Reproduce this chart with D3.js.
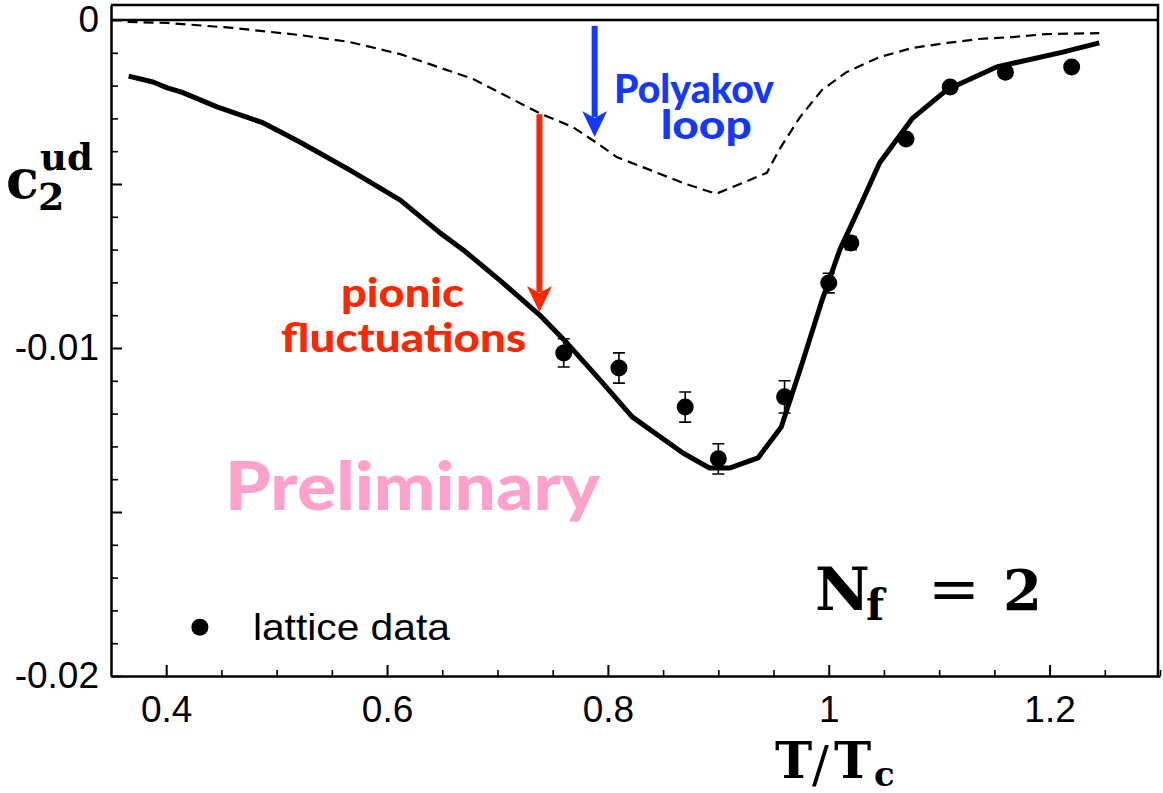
<!DOCTYPE html>
<html>
<head>
<meta charset="utf-8">
<script src="https://cdn.jsdelivr.net/npm/d3@7"></script>
<style>
  body { margin: 0; background: #fff; }
  svg { display: block; }
</style>
</head>
<body>
<script>
// model curve, full (pionic + Polyakov loop)
const fullT = [0.366, 0.388, 0.401, 0.414, 0.446, 0.488, 0.521, 0.566, 0.612, 0.648, 0.669, 0.702, 0.738,
  0.763, 0.793, 0.822, 0.868, 0.892, 0.910, 0.936, 0.957, 0.976, 0.994, 1.010, 1.028, 1.046, 1.076,
  1.107, 1.152, 1.212, 1.245];
const fullC = [-0.00171, -0.00189, -0.00207, -0.00220, -0.00265, -0.00314, -0.00372, -0.00457, -0.00549,
  -0.00649, -0.00701, -0.00793, -0.00899, -0.00985, -0.01098, -0.01210, -0.01320, -0.01366, -0.01366,
  -0.01335, -0.01241, -0.01046, -0.00854, -0.00701, -0.00570, -0.00436, -0.00299, -0.00213, -0.00143,
  -0.00098, -0.00070];

// Polyakov loop only (dashed)
const polyT = [0.365, 0.401, 0.460, 0.521, 0.566, 0.612, 0.678, 0.738, 0.768, 0.790, 0.808, 0.838, 0.868,
  0.898, 0.944, 0.955, 0.974, 0.994, 1.016, 1.046, 1.076, 1.107, 1.136, 1.166, 1.197, 1.245];
const polyC = [-0.00006, -0.00009, -0.00024, -0.00046, -0.00067, -0.00104, -0.00180, -0.00284, -0.00326,
  -0.00375, -0.00418, -0.00457, -0.00497, -0.00530, -0.00466, -0.00396, -0.00296, -0.00213, -0.00159,
  -0.00113, -0.00085, -0.00070, -0.00058, -0.00052, -0.00043, -0.00040];

// lattice data
const lattT = [0.76, 0.81, 0.87, 0.90, 0.96, 1.00, 1.02, 1.07, 1.11, 1.16, 1.22];
const lattC = [-0.01015, -0.01061, -0.01180, -0.01338, -0.01149, -0.00802, -0.00680, -0.00363, -0.00204, -0.00159, -0.00143];
const lattErr = [0.00043, 0.00046, 0.00046, 0.00046, 0.00049, 0.00030, 0.00020, 0.00010, 0.00010, 0.00010, 0.00010];

const xTickLabels = [0.4, 0.6, 0.8, 1, 1.2];
const yTickLabels = [0, -0.01, -0.02];

const width = 1163, height = 793;
const x = d3.scaleLinear([0.35, 1.3], [111, 1160]);
const y = d3.scaleLinear([-0.02, 0.000457], [676, 5]);

const svg = d3.select("body").append("svg")
    .attr("width", width)
    .attr("height", height)
    .attr("viewBox", [0, 0, width, height]);

const labelFont = "'Liberation Sans', Arial, Helvetica, sans-serif";
const mathFont = "'DejaVu Serif', serif";
const gillFont = "Lato, 'Open Sans', sans-serif";

// axes
const xMinor = d3.range(0.4, 1.31, 0.05).filter(v => !xTickLabels.some(t => Math.abs(t - v) < 1e-6));
svg.append("g")
    .attr("transform", `translate(0,${y.range()[0]})`)
    .call(d3.axisBottom(x).tickValues(xMinor).tickSize(-6).tickSizeOuter(0).tickFormat(""))
    .call(g => g.select(".domain").remove())
    .call(g => g.selectAll("line").attr("stroke-width", 1.6));
svg.append("g")
    .attr("transform", `translate(0,${y.range()[0]})`)
    .call(d3.axisBottom(x).tickValues(xTickLabels).tickSize(-11).tickSizeOuter(0).tickPadding(20)
      .tickFormat(d => String(d)))
    .call(g => g.select(".domain").attr("stroke-width", 2.5))
    .call(g => g.selectAll("line").attr("stroke-width", 2))
    .call(g => g.selectAll("text").attr("font-family", labelFont).attr("font-size", 37).attr("fill", "#000"));

const yMinor = d3.range(-20, 1).map(i => i / 1000).filter(v => Math.abs(v * 1000) % 5 !== 0);
const yMajor = d3.range(-20, 1, 5).map(i => i / 1000);
svg.append("g")
    .attr("transform", `translate(${x.range()[0]},0)`)
    .call(d3.axisLeft(y).tickValues(yMinor).tickSize(-7).tickSizeOuter(0).tickFormat(""))
    .call(g => g.select(".domain").remove())
    .call(g => g.selectAll("line").attr("stroke-width", 1.6));
svg.append("g")
    .attr("transform", `translate(${x.range()[0]},0)`)
    .call(d3.axisLeft(y).tickValues(yMajor).tickSize(-11).tickSizeOuter(0).tickPadding(12)
      .tickFormat(d => yTickLabels.some(t => Math.abs(t - d) < 1e-9) ? String(+d.toFixed(3)) : ""))
    .call(g => g.select(".domain").attr("stroke-width", 2.5))
    .call(g => g.selectAll("line").attr("stroke-width", 2))
    .call(g => g.selectAll("text").attr("font-family", labelFont).attr("font-size", 37).attr("fill", "#000"));

// frame: top, right, zero line
svg.append("path")
    .attr("d", `M${x.range()[0]},${y.range()[1]}H${x.range()[1] - 2}V${y.range()[0]}`)
    .attr("fill", "none").attr("stroke", "#000").attr("stroke-width", 2.5);
svg.append("line")
    .attr("x1", x.range()[0]).attr("x2", x.range()[1] - 2)
    .attr("y1", y(0)).attr("y2", y(0))
    .attr("stroke", "#000").attr("stroke-width", 2.5);

// curves
const line = d3.line().x(d => x(d[0])).y(d => y(d[1]));
svg.append("path")
    .attr("d", line(polyT.map((t, i) => [t, polyC[i]])))
    .attr("fill", "none").attr("stroke", "#000").attr("stroke-width", 2.2)
    .attr("stroke-dasharray", "10,6");
svg.append("path")
    .attr("d", line(fullT.map((t, i) => [t, fullC[i]])))
    .attr("fill", "none").attr("stroke", "#000").attr("stroke-width", 5)
    .attr("stroke-linejoin", "round");

// lattice points with error bars
const latt = lattT.map((t, i) => ({t, c: lattC[i], e: lattErr[i]}));
const pts = svg.append("g").selectAll("g").data(latt).join("g");
pts.append("path")
    .attr("d", d => {
      const cx = x(d.t), y0 = y(d.c + d.e), y1 = y(d.c - d.e);
      return `M${cx - 6},${y0}H${cx + 6}M${cx},${y0}V${y1}M${cx - 6},${y1}H${cx + 6}`;
    })
    .attr("fill", "none").attr("stroke", "#000").attr("stroke-width", 1.6);
pts.append("circle")
    .attr("cx", d => x(d.t)).attr("cy", d => y(d.c)).attr("r", 8.5)
    .attr("fill", "#000");

// arrows
const arrows = [
  {t: 0.788, from: -0.00018, to: -0.00357, color: "#1438ff"},
  {t: 0.738, from: -0.00287, to: -0.00890, color: "#ff2600"}
];
svg.append("g").selectAll("g").data(arrows).join("g")
    .each(function(d) {
      const g = d3.select(this), cx = x(d.t), y0 = y(d.from), y1 = y(d.to);
      g.append("line").attr("x1", cx).attr("x2", cx).attr("y1", y0).attr("y2", y1 - 20)
        .attr("stroke", d.color).attr("stroke-width", 6);
      g.append("path").attr("d", `M${cx - 12.5},${y1 - 26}L${cx},${y1}L${cx + 12.5},${y1 - 26}L${cx},${y1 - 19}Z`)
        .attr("fill", d.color);
    });

// annotations
const notes = [
  {text: "Polyakov", t: 0.878, c: -0.00253, color: "#1438ff", size: 40, len: 160},
  {text: "loop", t: 0.889, c: -0.00363, color: "#1438ff", size: 40, len: 91},
  {text: "pionic", t: 0.614, c: -0.00875, color: "#ff2600", size: 39, len: 123},
  {text: "fluctuations", t: 0.615, c: -0.01012, color: "#ff2600", size: 39, len: 245},
  {text: "Preliminary", t: 0.623, c: -0.01494, color: "#ffa2cb", size: 66, len: 375}
];
svg.append("g").selectAll("text").data(notes).join("text")
    .attr("x", d => x(d.t)).attr("y", d => y(d.c))
    .attr("text-anchor", "middle")
    .attr("font-family", gillFont).attr("font-weight", 900)
    .attr("font-size", d => d.size).attr("fill", d => d.color)
    .attr("textLength", d => d.len).attr("lengthAdjust", "spacingAndGlyphs")
    .text(d => d.text);

// legend
svg.append("circle").attr("cx", x(0.4305)).attr("cy", y(-0.01851)).attr("r", 8.5).attr("fill", "#000");
svg.append("text").attr("x", x(0.4785)).attr("y", y(-0.0189))
    .attr("font-family", labelFont).attr("font-size", 36)
    .attr("textLength", 197).attr("lengthAdjust", "spacingAndGlyphs")
    .text("lattice data");

// N_f = 2
const nf = svg.append("text").attr("font-family", mathFont).attr("font-weight", "bold").attr("fill", "#000");
nf.append("tspan").attr("x", 815).attr("y", 610).attr("font-size", 60).text("N");
nf.append("tspan").attr("x", 866).attr("y", 620).attr("font-size", 42).text("f");
nf.append("tspan").attr("x", 928).attr("y", 610).attr("font-size", 62).attr("font-weight", "normal").text("=");
nf.append("tspan").attr("x", 1003).attr("y", 610).attr("font-size", 56).text("2");

// axis titles
const yt = svg.append("text").attr("font-family", mathFont).attr("font-weight", "bold").attr("fill", "#000");
yt.append("tspan").attr("x", 6).attr("y", 198).attr("font-size", 54).text("c");
yt.append("tspan").attr("x", 40).attr("y", 170).attr("font-size", 37).text("ud");
yt.append("tspan").attr("x", 38).attr("y", 210).attr("font-size", 38).text("2");

const xt = svg.append("text").attr("font-family", mathFont).attr("font-weight", "bold").attr("fill", "#000");
xt.append("tspan").attr("x", 775).attr("y", 778).attr("font-size", 50).text("T");
xt.append("tspan").attr("x", 812).attr("y", 782).attr("font-size", 50).attr("font-weight", "normal").text("/");
xt.append("tspan").attr("x", 834).attr("y", 778).attr("font-size", 50).text("T");
xt.append("tspan").attr("x", 874).attr("y", 786).attr("font-size", 34).text("c");
</script>
</body>
</html>
